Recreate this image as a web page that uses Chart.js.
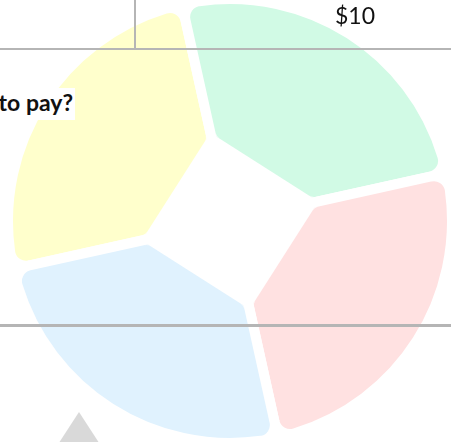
<!DOCTYPE html>
<html>
<head>
<meta charset="utf-8">
<script src="https://cdn.jsdelivr.net/npm/chart.js@4.4.1/dist/chart.umd.min.js"></script>
<style>
  html, body { margin: 0; padding: 0; background: #ffffff; width: 451px; height: 442px; overflow: hidden; }
  #stage { position: relative; width: 451px; height: 442px; overflow: hidden; background: #ffffff; }
  #chartBox { position: absolute; left: 3px; top: -6px; width: 454px; height: 454px; }
  .rule { position: absolute; background: #b5b5b5; }
  #price { position: absolute; left: 335px; top: 4px; font-family: Lato, "Noto Sans", sans-serif; font-size: 23px; line-height: 23px; color: #111; white-space: nowrap; }
  #question { position: absolute; left: 0; top: 88px; width: 75px; height: 32px; background: #ffffff; overflow: hidden; }
  #question span { position: absolute; right: 2px; top: 3px; font-family: Lato, "Noto Sans", sans-serif; font-weight: 700; font-size: 23px; line-height: 23px; color: #111; white-space: nowrap; }
  #tri { position: absolute; left: 53px; top: 412px; width: 52px; height: 40px; background: #d9d9d9; clip-path: polygon(50% 0, 100% 100%, 0 100%); }
</style>
</head>
<body>
<div id="stage">
  <div id="chartBox"><canvas id="c"></canvas></div>
  <div class="rule" style="left:0;top:48px;width:451px;height:2px;"></div>
  <div class="rule" style="left:134px;top:0;width:2px;height:49px;"></div>
  <div class="rule" style="left:0;top:324px;width:451px;height:3px;"></div>
  <div id="price">$10</div>
  <div id="question"><span>to pay?</span></div>
  <div id="tri"></div>
</div>
<script>
// ---- data ----
const categories = ["A", "B", "C", "D"];
const seriesValues = [25, 25, 25, 25];
const sliceColors = ["#FFFFCC", "#D1FAE5", "#FFE1E1", "#E0F2FE"];
const startRotation = 257.5; // degrees clockwise from top

// cuts a flat-edged hole in the middle, derived from the arc elements' angles,
// and rounds the inner corners of each slice
const holePlugin = {
  id: 'flatHole',
  afterDatasetsDraw(chart, args, opts) {
    const meta = chart.getDatasetMeta(0);
    const arcs = meta.data;
    const ctx = chart.ctx;
    const gapHalf = (chart.data.datasets[0].borderWidth || 0) / 2;
    const inset = opts.inset, rho = opts.cornerRadius;
    ctx.save();
    ctx.fillStyle = '#ffffff';
    ctx.beginPath();
    arcs.forEach((a, i) => {
      const p = a.getProps(['x', 'y', 'startAngle', 'endAngle'], true);
      const half = (p.endAngle - p.startAngle) / 2;
      const r = inset / Math.cos(half);
      const x1 = p.x + r * Math.cos(p.startAngle), y1 = p.y + r * Math.sin(p.startAngle);
      const x2 = p.x + r * Math.cos(p.endAngle), y2 = p.y + r * Math.sin(p.endAngle);
      if (i === 0) ctx.moveTo(x1, y1); else ctx.lineTo(x1, y1);
      ctx.lineTo(x2, y2);
    });
    ctx.closePath();
    ctx.fill();
    const solve = (n, b, d1, d2) => {
      const det = n[0] * b[1] - n[1] * b[0];
      return [(d1 * b[1] - n[1] * d2) / det, (n[0] * d2 - b[0] * d1) / det];
    };
    arcs.forEach((a) => {
      const p = a.getProps(['x', 'y', 'startAngle', 'endAngle'], true);
      const m = (p.startAngle + p.endAngle) / 2;
      const b = [Math.cos(m), Math.sin(m)];
      const normals = [
        [-Math.sin(p.startAngle), Math.cos(p.startAngle)],
        [Math.sin(p.endAngle), -Math.cos(p.endAngle)]
      ];
      normals.forEach((n) => {
        const C = solve(n, b, gapHalf, inset);
        const O = solve(n, b, gapHalf + rho, inset + rho);
        const T1 = [O[0] - rho * n[0], O[1] - rho * n[1]];
        const T2 = [O[0] - rho * b[0], O[1] - rho * b[1]];
        const t1 = Math.atan2(T1[1] - O[1], T1[0] - O[0]);
        const t2 = Math.atan2(T2[1] - O[1], T2[0] - O[0]);
        let d = t2 - t1;
        while (d > Math.PI) d -= 2 * Math.PI;
        while (d <= -Math.PI) d += 2 * Math.PI;
        ctx.beginPath();
        ctx.moveTo(p.x + C[0], p.y + C[1]);
        ctx.lineTo(p.x + T1[0], p.y + T1[1]);
        ctx.arc(p.x + O[0], p.y + O[1], rho, t1, t2, d < 0);
        ctx.closePath();
        ctx.fill();
      });
    });
    ctx.restore();
  }
};

new Chart(document.getElementById('c'), {
  type: 'pie',
  data: {
    labels: categories,
    datasets: [{
      data: seriesValues,
      backgroundColor: sliceColors,
      borderColor: '#ffffff',
      borderWidth: 10,
      borderRadius: { outerStart: 16, outerEnd: 16, innerStart: 0, innerEnd: 0 },
      hoverOffset: 0
    }]
  },
  options: {
    responsive: true,
    maintainAspectRatio: false,
    animation: false,
    rotation: startRotation,
    layout: { padding: 0 },
    plugins: {
      legend: { display: false },
      tooltip: { enabled: false },
      title: { display: false },
      flatHole: { inset: 64, cornerRadius: 9 }
    }
  },
  plugins: [holePlugin]
});
</script>
</body>
</html>
